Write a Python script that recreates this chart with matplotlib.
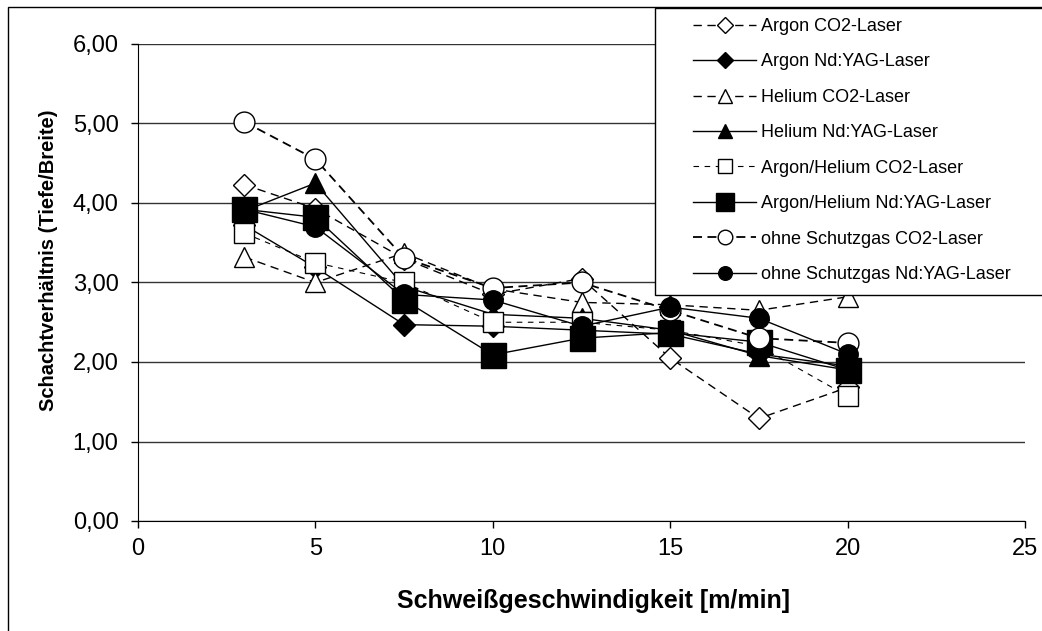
import matplotlib.pyplot as plt
from matplotlib.patches import Rectangle
from matplotlib.ticker import FuncFormatter

plt.rcParams["font.family"] = ["Liberation Sans", "DejaVu Sans"]

speed = [3, 5, 7.5, 10, 12.5, 15, 17.5, 20]

argon_co2 = [4.23, 3.93, 3.30, 2.85, 3.05, 2.05, 1.29, 1.68]
argon_yag = [3.72, 3.19, 2.47, 2.45, 2.40, 2.35, 2.10, 1.95]
helium_co2 = [3.32, 3.00, 3.37, 2.92, 2.75, 2.72, 2.65, 2.82]
helium_yag = [3.90, 4.25, 2.95, 2.60, 2.55, 2.40, 2.08, 1.90]
arhe_co2 = [3.62, 3.25, 3.00, 2.50, 2.50, 2.40, 2.20, 1.57]
arhe_yag = [3.92, 3.82, 2.78, 2.09, 2.30, 2.37, 2.25, 1.90]
ohne_co2 = [5.02, 4.55, 3.31, 2.93, 3.00, 2.65, 2.30, 2.24]
ohne_yag = [3.92, 3.70, 2.85, 2.78, 2.45, 2.69, 2.55, 2.10]

labels = [
    "Argon CO2-Laser",
    "Argon Nd:YAG-Laser",
    "Helium CO2-Laser",
    "Helium Nd:YAG-Laser",
    "Argon/Helium CO2-Laser",
    "Argon/Helium Nd:YAG-Laser",
    "ohne Schutzgas CO2-Laser",
    "ohne Schutzgas Nd:YAG-Laser",
]
series = [argon_co2, argon_yag, helium_co2, helium_yag,
          arhe_co2, arhe_yag, ohne_co2, ohne_yag]

# marker, size, filled, dashes, line width
styles = [
    ("D", 11, False, (6, 4), 1.0),
    ("D", 11, True, None, 1.0),
    ("^", 15, False, (6, 4), 1.0),
    ("^", 15, True, None, 1.0),
    ("s", 14, False, (5, 5), 0.8),
    ("s", 18, True, None, 1.0),
    ("o", 15, False, (5, 3), 1.3),
    ("o", 14, True, None, 1.0),
]

W, H = 1042, 631
fig = plt.figure(figsize=(W / 100, H / 100), dpi=100)
ax = fig.add_axes([138 / W, 1 - 521 / H, (1025 - 138) / W, (521 - 44) / H])

for vals, lab, (mk, ms, filled, dash, lw) in zip(series, labels, styles):
    kw = dict(marker=mk, markersize=ms, color="black", linewidth=lw,
              markeredgecolor="black", markeredgewidth=1.0,
              markerfacecolor="black" if filled else "white", label=lab)
    if dash is None:
        ax.plot(speed, vals, linestyle="-", **kw)
    else:
        ax.plot(speed, vals, linestyle="--", dashes=dash, **kw)

ax.set_xlim(0, 25)
ax.set_ylim(0, 6)
ax.set_xticks([0, 5, 10, 15, 20, 25])
ax.set_yticks([0, 1, 2, 3, 4, 5, 6])
ax.yaxis.set_major_formatter(FuncFormatter(lambda v, p: f"{v:.2f}".replace(".", ",")))
ax.tick_params(labelsize=17, direction="out", length=5, width=1)
ax.tick_params(axis="y", pad=9)
ax.tick_params(axis="x", pad=7)
ax.grid(axis="y", color="#333333", linewidth=1.0)
ax.set_axisbelow(True)
for s in ["top", "right"]:
    ax.spines[s].set_visible(False)

ax.set_xlabel("Schweißgeschwindigkeit [m/min]", fontsize=18, fontweight="bold")
ax.set_ylabel("Schachtverhältnis (Tiefe/Breite)", fontsize=14.5, fontweight="bold")
ax.xaxis.set_label_coords(0.514, -0.142)
ax.yaxis.set_label_coords(-0.090, 0.547)

# legend entries without frame, frame drawn separately
leg = fig.legend(loc="upper left", bbox_to_anchor=(693 / W, 1 - 18 / H),
                 fontsize=13, frameon=False, handlelength=3.5,
                 handletextpad=0.25, labelspacing=1.02, borderpad=0,
                 borderaxespad=0, markerscale=0.7)

fig.patches.append(Rectangle((655 / W, 1 - 295 / H), 0.5, 287 / H, transform=fig.transFigure,
                             facecolor="white", edgecolor="black", linewidth=1.0, zorder=4))
leg.set_zorder(5)

# outer chart border
fig.patches.append(Rectangle((8 / W, -0.05), 1.1, 1.05 - 7 / H, transform=fig.transFigure,
                             fill=False, edgecolor="black", linewidth=1.0))

plt.savefig("out.png", dpi=100)
